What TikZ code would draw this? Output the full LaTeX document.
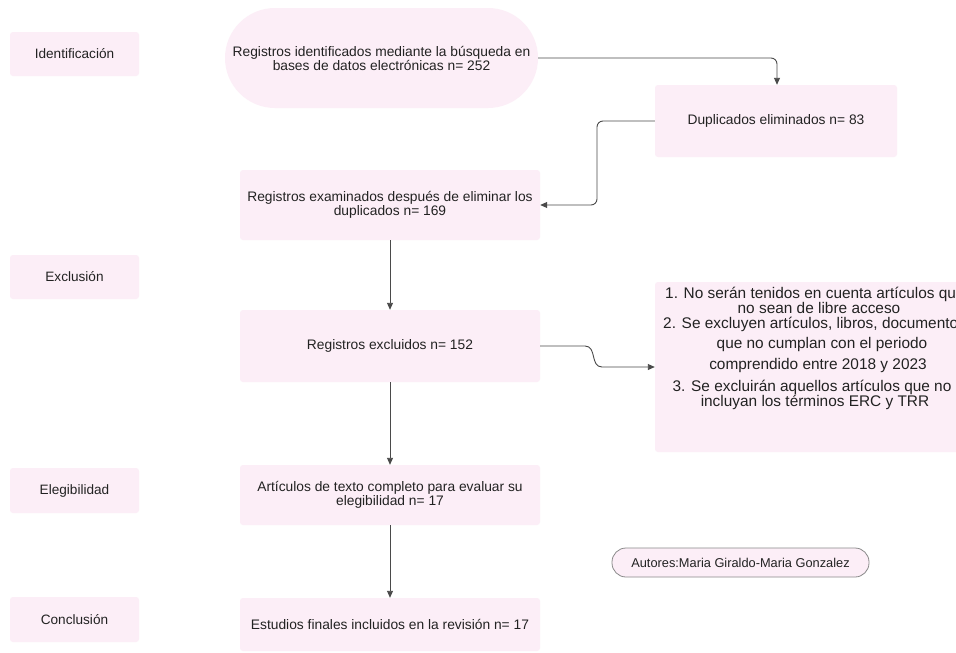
\documentclass[tikz,border=0pt]{standalone}
\usepackage{fontspec}
\setmainfont{Liberation Sans}
\usetikzlibrary{arrows.meta}
\definecolor{boxpink}{HTML}{FCEEF7}
\definecolor{txt}{HTML}{222222}
\definecolor{arr}{HTML}{4A4A4A}
\definecolor{autborder}{HTML}{8A8A8A}
\begin{document}
\begin{tikzpicture}[x=1pt,y=-1pt,
  stage/.style={fill=boxpink, rounded corners=3pt, minimum width=129pt, minimum height=44pt, inner sep=0pt, text=txt, font=\fontsize{13.6}{14}\selectfont},
  mainbox/.style={fill=boxpink, rounded corners=3pt, minimum width=300pt, align=center, inner sep=0pt, text=txt, font=\fontsize{13.8}{14}\selectfont},
  conn/.style={draw=arr, line width=0.9pt, -{Triangle[length=7pt,width=6pt]}},
  crittext/.style={text=txt, font=\fontsize{15.4}{16}\selectfont, inner sep=0pt}]
\useasboundingbox (0,0) rectangle (956,653);
\clip (0,0) rectangle (956,653);
\fill[white] (0,0) rectangle (956,653);

% stage labels
\node[stage] (sid) at (74.5,54) {Identificación};
\node[stage] (sexc) at (74.5,277) {Exclusión};
\node[stage, minimum height=45pt] (sele) at (74.5,490.5) {Elegibilidad};
\node[stage, minimum height=45pt] (scon) at (74.5,619.5) {Conclusión};

% main flow
\node[mainbox, minimum width=313pt, minimum height=100pt, rounded corners=50pt] (reg) at (381.5,58)
  {Registros identificados mediante la búsqueda en\\bases de datos electrónicas n= 252};
\node[mainbox, minimum width=242pt, minimum height=72pt] (dup) at (776,121) {Duplicados eliminados n= 83};
\node[mainbox, minimum height=70pt] (exam) at (390,205)
  {Registros examinados después de eliminar los\\duplicados n= 169};
\node[mainbox, minimum height=72pt] (excl) at (390,346) {Registros excluidos n= 152};
\node[mainbox, minimum height=60pt] (art) at (390,495)
  {Artículos de texto completo para evaluar su\\elegibilidad n= 17};
\node[mainbox, minimum height=53pt] (est) at (390,624.5) {Estudios finales incluidos en la revisión n= 17};

% criteria box
\node[fill=boxpink, rounded corners=3pt, minimum width=325pt, minimum height=170pt, inner sep=0pt] (crit) at (817.5,367) {};
\node[crittext, anchor=base west] (l1) at (665,298) {1. No serán tenidos en cuenta artículos que};
\node[crittext, anchor=base] (l2) at (819,313) {no sean de libre acceso};
\node[crittext, anchor=base west] (l3) at (663,328) {2. Se excluyen artículos, libros, documentos};
\node[crittext, anchor=base] (l4) at (822,348) {que no cumplan con el periodo};
\node[crittext, anchor=base] (l5) at (818,369) {comprendido entre 2018 y 2023};
\node[crittext, anchor=base] (l6) at (812,391) {3. Se excluirán aquellos artículos que no};
\node[crittext, anchor=base] (l7) at (815,406) {incluyan los términos ERC y TRR};

% authors
\node[fill=boxpink, draw=autborder, line width=0.8pt, rounded corners=14pt, minimum width=257pt, minimum height=29pt, inner sep=0pt, text=txt, font=\fontsize{12.8}{13}\selectfont] (aut) at (740.5,562.5) {Autores:Maria Giraldo-Maria Gonzalez};

% connectors
\coordinate (c1) at (777,58);
\draw[conn, rounded corners=6pt] (reg.east) -- (c1) -- (c1 |- dup.north);
\coordinate (c2) at (597,121);
\draw[conn, rounded corners=6pt] (dup.west) -- (c2) -- (c2 |- exam.east) -- (exam.east);
\draw[conn] (exam.south) -- (excl.north);
\draw[conn] (excl.south) -- (art.north);
\draw[conn] (art.south) -- (est.north);
\coordinate (c3) at (585,346);
\coordinate (c4) at (602,367);
\draw[conn] (excl.east) -- (c3) .. controls (597,346) and (590,367) .. (c4) -- (crit.west);
\end{tikzpicture}
\end{document}
